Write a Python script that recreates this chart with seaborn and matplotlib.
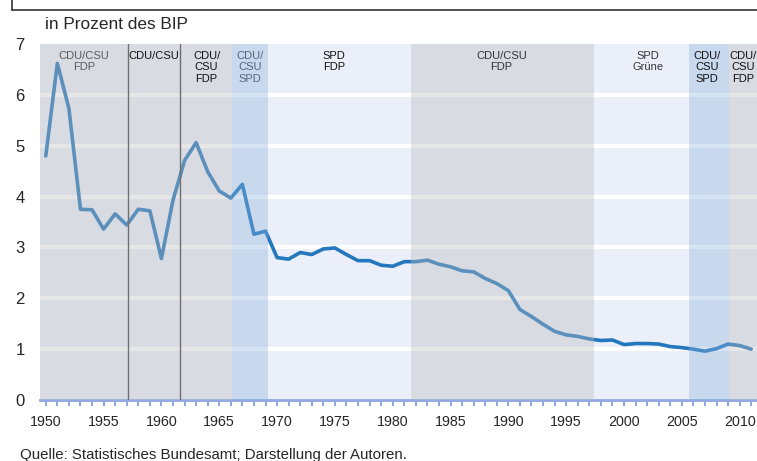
import numpy as np
import pandas as pd
import seaborn as sns
import matplotlib.pyplot as plt
from matplotlib.lines import Line2D

years = list(range(1950, 2012))
share = [4.80, 6.62, 5.73, 3.75, 3.74, 3.36, 3.66, 3.44, 3.75, 3.72,
         2.78, 3.93, 4.71, 5.06, 4.49, 4.11, 3.97, 4.24, 3.26, 3.32,
         2.80, 2.77, 2.90, 2.86, 2.97, 2.99, 2.86, 2.74, 2.74, 2.65,
         2.63, 2.72, 2.72, 2.75, 2.67, 2.62, 2.54, 2.52, 2.39, 2.29,
         2.15, 1.78, 1.64, 1.49, 1.35, 1.28, 1.25, 1.20, 1.17, 1.18,
         1.09, 1.11, 1.11, 1.10, 1.05, 1.03, 1.00, 0.96, 1.01, 1.10,
         1.07, 1.00]

# governments (coalitions)
gov_start = [1949.5, 1957.1, 1961.6, 1966.1, 1969.2, 1981.6, 1997.4, 2005.6, 2009.1]
gov_end = [1957.1, 1961.6, 1966.1, 1969.2, 1981.6, 1997.4, 2005.6, 2009.1, 2011.5]
gov_label = ["CDU/CSU\nFDP", "CDU/CSU", "CDU/\nCSU\nFDP", "CDU/\nCSU\nSPD", "SPD\nFDP",
             "CDU/CSU\nFDP", "SPD\nGrüne", "CDU/\nCSU\nSPD", "CDU/\nCSU\nFDP"]
gov_kind = ["grey", "grey", "grey", "blue", "light", "grey", "light", "blue", "grey"]
label_x = [1953.3, 1959.35, 1963.9, 1967.65, 1974.9, 1989.4, 2002.1, 2007.2, 2010.3]
label_col = ["#5a5a5a", "#111111", "#111111", "#56667c", "#111111",
             "#333333", "#333333", "#111111", "#111111"]
split_lines = [1957.1, 1961.6]

df = pd.DataFrame({"Jahr": years, "Anteil": share})

sns.set_style("white")
plt.rcParams["font.family"] = ["Liberation Sans", "DejaVu Sans"]

fig = plt.figure(figsize=(7.57, 4.61), dpi=100)
ax = fig.add_axes([40 / 757, 1 - 400 / 461, 717 / 757, 356 / 461])
ax.set_facecolor("#eaeff9")

for v in range(1, 7):
    ax.axhline(v, color="white", lw=3, zorder=1)

sns.lineplot(data=df, x="Jahr", y="Anteil", color="#2577bd", lw=2.6, zorder=2, ax=ax)

overlay = {"grey": "#bbbabc", "blue": "#8eb2dd"}
for s, e, k in zip(gov_start, gov_end, gov_kind):
    if k in overlay:
        ax.axvspan(s, e, color=overlay[k], alpha=0.36, lw=0, zorder=3)

for x in split_lines:
    ax.axvline(x, color="#707070", lw=1, zorder=4)

for x, lab, c in zip(label_x, gov_label, label_col):
    ax.text(x, 6.86, lab, ha="center", va="top", fontsize=8, color=c,
            linespacing=1.15, zorder=5)

ax.set_xlim(1949.5, 2011.5)
ax.set_ylim(0, 7)
ax.set_xticks(range(1950, 2011, 5))
ax.set_xticks(range(1950, 2012), minor=True)
ax.set_yticks(range(0, 8))
ax.tick_params(axis="x", which="both", direction="out", length=4, width=1.5,
               color="#8fa8e0", bottom=True)
ax.tick_params(axis="x", which="major", labelsize=10.3, pad=7)
ax.tick_params(axis="y", length=0, labelsize=12, pad=11)
ax.set_xlabel("")
ax.set_ylabel("")
for sp in ["top", "right", "left"]:
    ax.spines[sp].set_visible(False)
ax.spines["bottom"].set_color("#8fa8e0")
ax.spines["bottom"].set_linewidth(2)

fig.text(45 / 757, 1 - 29 / 461, "in Prozent des BIP", fontsize=12.4, va="baseline")
fig.text(20 / 757, 1 - 458.5 / 461, "Quelle: Statistisches Bundesamt; Darstellung der Autoren.",
         fontsize=10.8, va="baseline")

fig.add_artist(Line2D([12 / 757, 1], [1 - 10 / 461, 1 - 10 / 461], color="#333333", lw=1.2))
fig.add_artist(Line2D([12 / 757, 12 / 757], [1, 1 - 10 / 461], color="#333333", lw=1.2))

fig.savefig("out.png", dpi=100)
